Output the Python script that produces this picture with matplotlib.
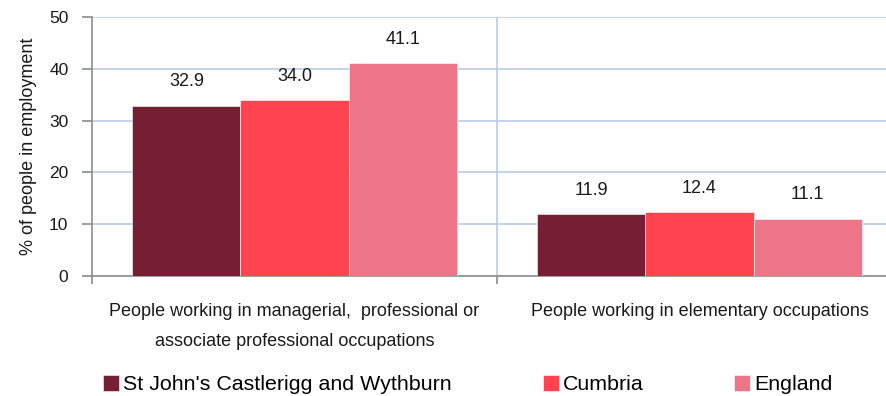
import matplotlib
matplotlib.use("Agg")
from matplotlib import pyplot as plt
import numpy as np

plt.rcParams['font.family'] = ['Liberation Sans', 'DejaVu Sans']

categories = ["People working in managerial,  professional or\nassociate professional occupations",
              "People working in elementary occupations"]
areas = ["St John's Castlerigg and Wythburn", "Cumbria", "England"]
values = {
    "St John's Castlerigg and Wythburn": [32.9, 11.9],
    "Cumbria": [34.0, 12.4],
    "England": [41.1, 11.1],
}
colors = ['#751e34', '#ff444f', '#ee7488']

W, H = 886, 396
fig = plt.figure(figsize=(W / 100, H / 100), dpi=100)
# plot area runs off the right edge, like the exported chart
ax = fig.add_axes([92 / W, (H - 276) / H, (902 - 92) / W, (276 - 17) / H])

x = np.arange(len(categories))
width = 0.267
grid_c = '#b9cde5'
axis_c = '#8c8c8c'
text_c = '#1a1a1a'

for i, (area, c) in enumerate(zip(areas, colors)):
    bars = ax.bar(x + (i - 1) * width, values[area], width, color=c,
                  edgecolor='white', linewidth=0.4, label=area, zorder=3)
    for b, v in zip(bars, values[area]):
        ax.text(b.get_x() + b.get_width() / 2, v + 3.7, f"{v:.1f}",
                ha='center', va='baseline', fontsize=13, color=text_c)

ax.set_xlim(-0.5, 1.5)
ax.set_ylim(0, 50)
ax.set_yticks(range(0, 51, 10))
ax.yaxis.grid(True, color=grid_c, linewidth=1.2, zorder=0)
ax.axvline(0.5, color=grid_c, linewidth=1.2, zorder=0)
ax.set_axisbelow(True)

for s in ['top', 'right']:
    ax.spines[s].set_visible(False)
for s in ['left', 'bottom']:
    ax.spines[s].set_color(axis_c)
    ax.spines[s].set_linewidth(1.2)

ax.tick_params(axis='y', direction='out', length=7, width=1.2, color=axis_c,
               labelsize=12.5, pad=10, labelcolor=text_c)
ax.set_xticks([-0.5, 0.5])
ax.set_xticklabels([])
ax.tick_params(axis='x', direction='out', length=6, width=1.2, color=axis_c)

for xi, lab in zip(x, categories):
    ax.text(xi, -5.2, lab, ha='center', va='top', fontsize=13,
            linespacing=2.0, color=text_c)

ax.set_ylabel("% of people in employment", fontsize=13, color=text_c, labelpad=9)

# legend sits at the very bottom, kept just inside the canvas
fig.legend(loc='upper left', bbox_to_anchor=(103 / W, 21 / H), ncol=3,
           frameon=False, fontsize=15.4, handlelength=0.75, handleheight=0.75,
           handletextpad=0.19, columnspacing=4.25, borderpad=0, borderaxespad=0)

fig.savefig("out.png", dpi=100)
